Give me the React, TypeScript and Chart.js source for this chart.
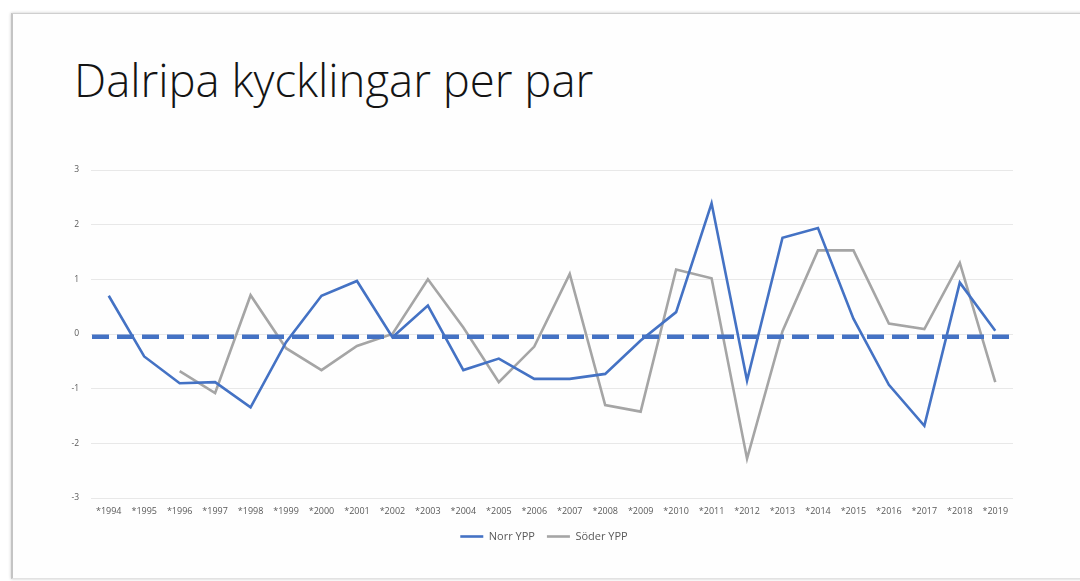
import { useEffect, useRef } from "react";
import { Chart, registerables } from "chart.js";

Chart.register(...registerables);

// Year labels along the category axis
const years = [
  "*1994", "*1995", "*1996", "*1997", "*1998", "*1999", "*2000", "*2001", "*2002",
  "*2003", "*2004", "*2005", "*2006", "*2007", "*2008", "*2009", "*2010", "*2011",
  "*2012", "*2013", "*2014", "*2015", "*2016", "*2017", "*2018", "*2019",
];

// Chicks per pair, northern area
const norrYpp = [
  0.7, -0.41, -0.9, -0.88, -1.34, -0.15, 0.7, 0.97, -0.06, 0.52, -0.66, -0.45, -0.82,
  -0.82, -0.73, -0.12, 0.4, 2.39, -0.85, 1.76, 1.94, 0.28, -0.93, -1.68, 0.94, 0.06,
];

// Chicks per pair, southern area (series starts in 1996)
const soderYpp = [
  null, null, -0.68, -1.08, 0.71, -0.26, -0.66, -0.22, 0.0, 1.0, 0.12, -0.88, -0.23,
  1.1, -1.3, -1.42, 1.18, 1.02, -2.28, 0.05, 1.53, 1.53, 0.19, 0.09, 1.3, -0.88,
];

// Horizontal dashed reference level
const referenceLevel = -0.05;

// Value axis range
const yMin = -3;
const yMax = 3;
const yStep = 1;

const seriesNames = ["Norr YPP", "Söder YPP"];

const BLUE = "#4472C4";
const GREY = "#A5A5A5";
const TEXT = "#595959";
const FONT = "'Open Sans', 'DejaVu Sans', sans-serif";

const referenceLine = {
  id: "referenceLine",
  afterDatasetsDraw(chart: any) {
    const { ctx, chartArea, scales } = chart;
    const y = scales.y.getPixelForValue(referenceLevel);
    ctx.save();
    ctx.strokeStyle = BLUE;
    ctx.lineWidth = 4.5;
    ctx.setLineDash([17, 8]);
    ctx.beginPath();
    ctx.moveTo(chartArea.left + 1, y);
    ctx.lineTo(chartArea.right - 2, y);
    ctx.stroke();
    ctx.restore();
  },
};

function ChickChart() {
  const canvasRef = useRef<HTMLCanvasElement | null>(null);

  useEffect(() => {
    const canvas = canvasRef.current;
    if (!canvas) return;
    const chart = new Chart(canvas, {
      type: "line",
      data: {
        labels: years,
        datasets: [
          {
            label: seriesNames[0],
            data: norrYpp,
            borderColor: BLUE,
            backgroundColor: BLUE,
            borderWidth: 2.6,
            pointRadius: 0,
            tension: 0,
          },
          {
            label: seriesNames[1],
            data: soderYpp,
            borderColor: GREY,
            backgroundColor: GREY,
            borderWidth: 2.6,
            pointRadius: 0,
            tension: 0,
          },
        ],
      },
      options: {
        responsive: false,
        animation: false,
        layout: { padding: { left: 66, right: 58, top: 30, bottom: 6 } },
        plugins: {
          legend: {
            position: "bottom",
            labels: {
              usePointStyle: true,
              pointStyle: "line",
              pointStyleWidth: 23,
              color: TEXT,
              padding: 12,
              font: { family: FONT, size: 11 },
            },
          },
          tooltip: { enabled: false },
        },
        scales: {
          x: {
            offset: true,
            grid: { display: false, drawTicks: false },
            border: { display: false },
            ticks: {
              color: TEXT,
              padding: 8,
              maxRotation: 0,
              autoSkip: false,
              font: { family: FONT, size: 9 },
            },
            afterFit: (scale: any) => {
              scale.height = 21;
            },
          },
          y: {
            min: yMin,
            max: yMax,
            grid: { color: "#e8e8e8", drawTicks: false, lineWidth: 1 },
            border: { display: false },
            ticks: {
              stepSize: yStep,
              color: TEXT,
              padding: 12,
              font: { family: FONT, size: 8.5 },
            },
            afterFit: (scale: any) => {
              scale.width = 25;
            },
          },
          // empty right-hand margin axis, keeps the plot clear of the slide edge
          yRight: {
            position: "right",
            grid: { display: false },
            border: { display: false },
            ticks: { display: false },
            afterFit: (scale: any) => {
              scale.width = 9;
            },
          },
        },
      },
      plugins: [referenceLine],
    });
    return () => chart.destroy();
  }, []);

  return (
    <canvas
      ref={canvasRef}
      width={1080}
      height={418}
      style={{ position: "absolute", left: 0, top: 140, width: 1080, height: 418 }}
    />
  );
}

export default function App() {
  return (
    <div
      style={{
        position: "fixed",
        left: 0,
        top: 0,
        width: 1080,
        height: 581,
        background: "#ffffff",
        overflow: "hidden",
      }}
    >
      <div
        style={{
          position: "absolute",
          left: 11,
          top: 13,
          width: 1100,
          height: 564,
          background: "#fefefe",
          borderTop: "1px solid #cfcfcf",
          borderLeft: "2px solid #c4c4c4",
          borderBottom: "1px solid #e2e2e2",
          boxShadow: "0 0 3px rgba(0,0,0,0.22)",
        }}
      />
      <div
        style={{
          position: "absolute",
          left: 74,
          top: 54,
          fontFamily: "'Open Sans', Lato, sans-serif",
          fontWeight: 300,
          fontSize: 45.5,
          lineHeight: "50px",
          color: "#141414",
          whiteSpace: "nowrap",
        }}
      >
        Dalripa kycklingar per par
      </div>
      <ChickChart />
    </div>
  );
}
